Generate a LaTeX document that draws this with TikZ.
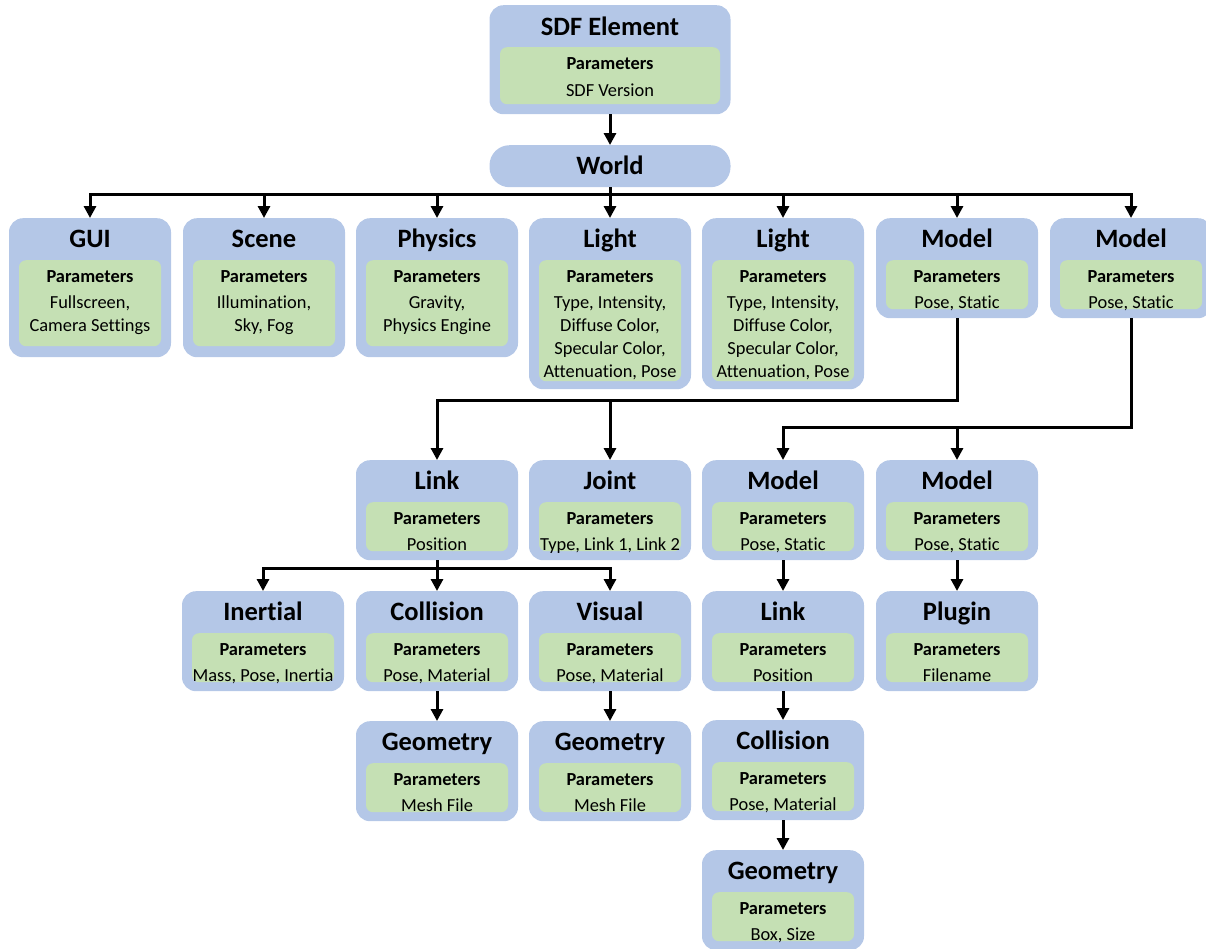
\documentclass[tikz,border=0pt]{standalone}
\usepackage{fontspec}
\setmainfont{Carlito}[RawFeature=-liga]
\usetikzlibrary{arrows.meta,calc}

\definecolor{boxblue}{HTML}{B4C7E7}
\definecolor{boxgreen}{HTML}{C5E0B4}

\tikzset{
  outerbox/.style={anchor=north, minimum width=162pt, rounded corners=14pt,
    fill=boxblue, draw=none, inner sep=0pt},
  innerbox/.style={anchor=north, minimum width=142pt, rounded corners=7pt,
    fill=boxgreen, draw=none, inner sep=0pt},
  titletext/.style={anchor=base, inner sep=0pt,
    font=\fontsize{26.5}{30}\selectfont\bfseries},
  paramtext/.style={anchor=base, inner sep=0pt,
    font=\fontsize{18.4}{23}\selectfont},
  conn/.style={line width=3pt, draw=black,
    -{Triangle[length=12pt,width=12pt]}},
}

% element box: id, centre x, top y, outer height, inner height, title, parameter lines
\newcommand{\sdfbox}[7]{%
  \node[outerbox, minimum height=#4pt] (#1) at (#2,#3) {};
  \node[innerbox, minimum height=#5pt] (#1-p) at ($(#1.north)+(0,42)$) {};
  \node[titletext] (#1-t) at ($(#1.north)+(0,29.5)$) {#6};
  \node[paramtext] (#1-l) at ($(#1-p.north)+(0,22)$)
    {\begin{tabular}[t]{@{}c@{}}\textbf{Parameters}\\[3pt] #7\end{tabular}};
}

\begin{document}
\begin{tikzpicture}[x=1pt,y=-1pt]
\useasboundingbox (0,0) rectangle (1206,948);

% root and world
\node[outerbox, minimum width=241pt, minimum height=109pt] (sdf) at (610,5) {};
\node[innerbox, minimum width=220pt, minimum height=57pt] (sdf-p) at ($(sdf.north)+(0,42)$) {};
\node[titletext] (sdf-t) at ($(sdf.north)+(0,30.5)$) {SDF Element};
\node[paramtext] (sdf-l) at ($(sdf-p.north)+(0,22)$)
  {\begin{tabular}[t]{@{}c@{}}\textbf{Parameters}\\[4pt] SDF Version\end{tabular}};

\node[outerbox, minimum width=241pt, minimum height=42pt, rounded corners=20pt] (world) at (610,145) {};
\node[titletext] (world-t) at ($(world.north)+(0,29.5)$) {World};

% children of the world
\sdfbox{gui}{90}{218}{139}{86}{GUI}{Fullscreen,\\ Camera Settings}
\sdfbox{scene}{264}{218}{139}{86}{Scene}{Illumination,\\ Sky, Fog}
\sdfbox{physics}{437}{218}{139}{86}{Physics}{Gravity,\\ Physics Engine}
\sdfbox{lightA}{610}{218}{171}{121}{Light}{Type, Intensity,\\ Diffuse Color,\\ Specular Color,\\ Attenuation, Pose}
\sdfbox{lightB}{783}{218}{171}{121}{Light}{Type, Intensity,\\ Diffuse Color,\\ Specular Color,\\ Attenuation, Pose}
\sdfbox{modelA}{957}{218}{100}{49}{Model}{Pose, Static}
\sdfbox{modelB}{1131}{218}{100}{49}{Model}{Pose, Static}

% second level
\sdfbox{link}{437}{460}{100}{49}{Link}{Position}
\sdfbox{joint}{610}{460}{100}{49}{Joint}{Type, Link 1, Link 2}
\sdfbox{subA}{783}{460}{100}{49}{Model}{Pose, Static}
\sdfbox{subB}{957}{460}{100}{49}{Model}{Pose, Static}

% third level
\sdfbox{inertial}{263}{591}{100}{49}{Inertial}{Mass, Pose, Inertia}
\sdfbox{collision}{437}{591}{100}{49}{Collision}{Pose, Material}
\sdfbox{visual}{610}{591}{100}{49}{Visual}{Pose, Material}
\sdfbox{linkB}{783}{591}{100}{49}{Link}{Position}
\sdfbox{plugin}{957}{591}{100}{49}{Plugin}{Filename}

% fourth and fifth level
\sdfbox{geomA}{437}{721}{100}{49}{Geometry}{Mesh File}
\sdfbox{geomB}{610}{721}{100}{49}{Geometry}{Mesh File}
\sdfbox{collisionB}{783}{720}{100}{49}{Collision}{Pose, Material}
\sdfbox{geomC}{783}{850}{100}{49}{Geometry}{Box, Size}

% connectors
\draw[conn] (sdf.south) -- (world.north);

\coordinate (worldbus) at (610,194);
\foreach \n in {gui,scene,physics,lightA,lightB,modelA,modelB}
  \draw[conn] (world.south) -- (worldbus) -| (\n.north);

\coordinate (modelbusA) at (957,400);
\foreach \n in {link,joint}
  \draw[conn] (modelA.south) -- (modelbusA) -| (\n.north);

\coordinate (modelbusB) at (1131,427);
\foreach \n in {subA,subB}
  \draw[conn] (modelB.south) -- (modelbusB) -| (\n.north);

\coordinate (linkbus) at (437,568);
\foreach \n in {inertial,collision,visual}
  \draw[conn] (link.south) -- (linkbus) -| (\n.north);

\draw[conn] (collision.south) -- (geomA.north);
\draw[conn] (visual.south) -- (geomB.north);
\draw[conn] (subA.south) -- (linkB.north);
\draw[conn] (linkB.south) -- (collisionB.north);
\draw[conn] (collisionB.south) -- (geomC.north);
\draw[conn] (subB.south) -- (plugin.north);
\end{tikzpicture}
\end{document}
